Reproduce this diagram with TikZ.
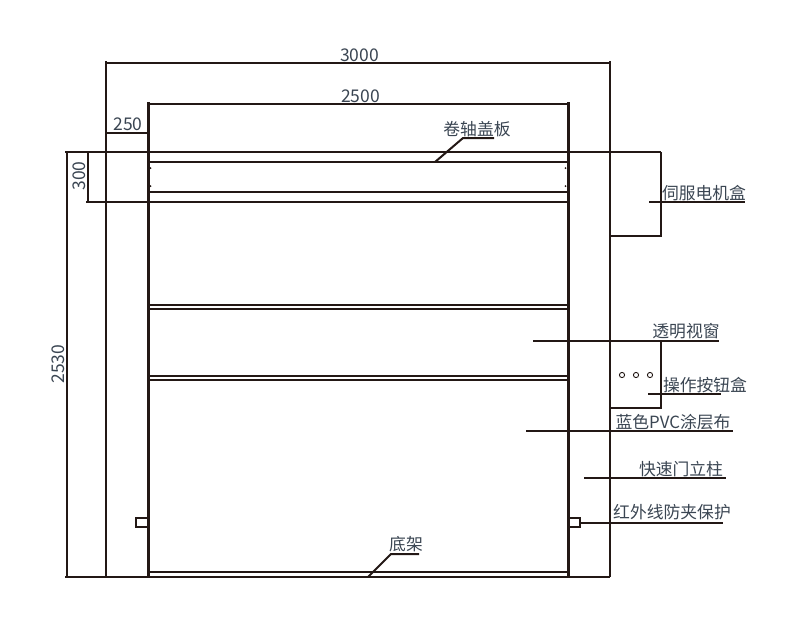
\documentclass[tikz,border=0pt]{standalone}
\usepackage{fontspec}
\setmainfont{Noto Sans CJK SC}
\definecolor{linecol}{HTML}{231815}
\definecolor{textcol}{HTML}{3A4552}
\tikzset{
    thinline/.style={linecol,line width=1.5pt},
    wall/.style={linecol,line width=3pt},
    leader/.style={linecol,line width=2pt},
    label/.style={text=textcol,inner sep=0pt,font=\fontsize{16.8}{18}\selectfont},
    dimlabel/.style={label,font=\fontsize{17.5}{18}\selectfont},
}
\begin{document}
\begin{tikzpicture}[x=1pt,y=-1pt]
        \useasboundingbox (0,0) rectangle (790,625);
        % posts
        \draw[leader] (106,61) -- (106,577);
        \draw[leader] (610,61) -- (610,577);
        \draw[wall] (148,102) -- (148,577);
        \draw[wall] (568,102) -- (568,577);
        % dimension lines
        \draw[leader] (106,63) -- (610,63);
        \draw[leader] (148,104) -- (568,104);
        \draw[leader] (106,133) -- (148,133);
        \draw[leader] (88,152) -- (88,202);
        \draw[thinline] (67,152) -- (67,577);
        \draw[leader] (65,152) -- (661,152);
        \draw[leader] (65,577) -- (610,577);
        \draw[leader] (86,202) -- (568,202);
        % cover and rails
        \foreach \y in {162,192,305,308.5,376,379.5,572}
            \draw[leader] (148,\y) -- (568,\y);
        \foreach \x/\y in {150.5/168,150.5/186,565.5/168,565.5/186}
            \fill[linecol] (\x,\y) circle (1);
        % boxes on the right post
        \draw[leader] (661,152) -- (661,236) -- (610,236);
        \draw[leader] (661,341) -- (661,408) -- (610,408);
        \foreach \x in {622,636,650}
            \draw[linecol,line width=0.9pt] (\x,375) circle (2.6);
        % infrared sensors
        \draw[leader] (147,518) -- (136,518) -- (136,527) -- (147,527);
        \draw[leader] (569,518) -- (580,518) -- (580,527) -- (569,527);
        % leaders
        \draw[leader] (435,162) -- (463,138) -- (494,138);
        \draw[leader] (368,577) -- (391,554) -- (419,554);
        \draw[leader] (649,202) -- (745,202);
        \draw[leader] (533,341) -- (719,341);
        \draw[leader] (648,394) -- (721,394);
        \draw[leader] (526,431) -- (733,431);
        \draw[leader] (584,478) -- (726,478);
        \draw[leader] (580,523) -- (723,523);
        % dimensions
        \node[dimlabel] (w3000) at (359.5,55) {3000};
        \node[dimlabel] (w2500) at (360.5,96) {2500};
        \node[dimlabel] (w250) at (128,124) {250};
        \node[dimlabel,rotate=90] (h300) at (79,176) {300};
        \node[dimlabel,rotate=90] (h2530) at (58,364) {2530};
        % part names
        \node[label] (cover) at (477,129) {卷轴盖板};
        \node[label] (servo) at (704,193) {伺服电机盒};
        \node[label] (window) at (686,331) {透明视窗};
        \node[label] (button) at (705,385) {操作按钮盒};
        \node[label] (pvc) at (673,422) {蓝色PVC涂层布};
        \node[label] (column) at (681,469) {快速门立柱};
        \node[label] (sensor) at (672,512) {红外线防夹保护};
        \node[label] (frame) at (406,544) {底架};
        \end{tikzpicture}
\end{document}
